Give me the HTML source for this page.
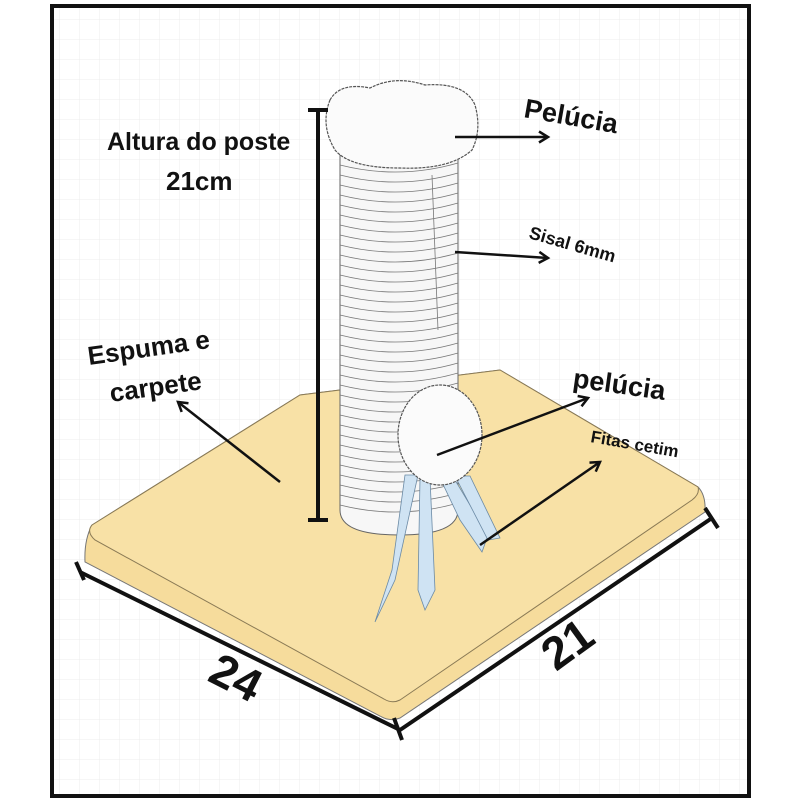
<!DOCTYPE html>
<html><head><meta charset="utf-8"><style>
html,body{margin:0;padding:0;background:#fff}
svg{display:block}
text{font-family:"Liberation Sans","DejaVu Sans",sans-serif;font-weight:bold;fill:#111}
</style></head><body>
<svg width="800" height="800" viewBox="0 0 800 800" xmlns="http://www.w3.org/2000/svg">
<defs>
<pattern id="g" width="20" height="20" patternUnits="userSpaceOnUse">
<path d="M20 0V20H0" fill="none" stroke="#ececec" stroke-width="1"/>
</pattern>
<marker id="a" markerWidth="14" markerHeight="14" refX="10" refY="7" orient="auto" markerUnits="userSpaceOnUse">
<path d="M1 1.5L10 7L1 12.5" fill="none" stroke="#111" stroke-width="2.5"/>
</marker>
</defs>
<rect x="0" y="0" width="800" height="800" fill="#fff"/>
<rect x="52" y="6" width="697" height="790" fill="url(#g)" stroke="#111" stroke-width="4"/>

<!-- base -->
<path d="M92 525 L300 395 L500 370 L698 487 Q706 495 705 512 L400 718 Q390 722 380 716 L85 562 Q84 540 92 525 Z" fill="#f6dc9c" stroke="#777" stroke-width="1"/>
<path d="M92 525 L300 395 L500 370 L698 487 Q700 494 692 500 L400 700 Q392 704 384 699 L95 540 Q86 532 92 525 Z" fill="#f8e1a6" stroke="#8a7a55" stroke-width="1"/>

<!-- post -->
<path d="M340 150 H458 V510 Q458 535 399 535 Q340 535 340 510 Z" fill="#f7f7f7" stroke="#666" stroke-width="1"/>
<g stroke="#777" stroke-width="0.8" fill="none">
<path d="M340 165 Q399 180 458 163 M340 175 Q399 190 458 173 M340 185 Q399 200 458 183 M340 195 Q399 210 458 193 M340 205 Q399 220 458 203 M340 215 Q399 230 458 213 M340 225 Q399 240 458 223 M340 235 Q399 250 458 233 M340 245 Q399 260 458 243 M340 255 Q399 270 458 253 M340 265 Q399 280 458 263 M340 275 Q399 290 458 273 M340 285 Q399 300 458 283 M340 295 Q399 310 458 293 M340 305 Q399 320 458 303 M340 315 Q399 330 458 313 M340 325 Q399 340 458 323 M340 335 Q399 350 458 333 M340 345 Q399 360 458 343 M340 355 Q399 370 458 353 M340 365 Q399 380 458 363 M340 375 Q399 390 458 373 M340 385 Q399 400 458 383 M340 395 Q399 410 458 393 M340 405 Q399 420 458 403 M340 415 Q399 430 458 413 M340 425 Q399 440 458 423 M340 435 Q399 450 458 433 M340 445 Q399 460 458 443 M340 455 Q399 470 458 453 M340 465 Q399 480 458 463 M340 475 Q399 490 458 473 M340 485 Q399 500 458 483 M340 495 Q399 510 458 493 M340 505 Q399 520 458 503"/>
<path d="M432 175 L438 330"/>
</g>
<!-- plush top -->
<path d="M330 100 Q340 82 370 88 Q395 75 425 85 Q465 82 475 105 Q482 130 472 150 Q450 170 400 168 Q350 168 335 150 Q320 125 330 100 Z" fill="#fbfbfb" stroke="#555" stroke-width="1.2" stroke-dasharray="3 1"/>
<!-- ribbons -->
<g fill="#cfe3f3" stroke="#6b8aa5" stroke-width="0.8">
<path d="M405 475 L418 475 L395 580 L375 622 L392 570 Z"/>
<path d="M420 478 L430 478 L435 590 L425 610 L418 590 Z"/>
<path d="M440 478 L452 475 L488 535 L482 552 L460 520 Z"/>
<path d="M455 476 L470 476 L500 538 L488 540 Z"/>
</g>
<!-- pom -->
<ellipse cx="440" cy="435" rx="42" ry="50" fill="#fbfbfb" stroke="#555" stroke-width="1.2" stroke-dasharray="3 1"/>

<!-- height line -->
<g stroke="#111" stroke-width="4" fill="none">
<path d="M318 110 V520 M308 110 H328 M308 520 H328"/>
</g>
<!-- dims -->
<g stroke="#111" stroke-width="4" fill="none">
<path d="M80 572 L400 730 L712 518"/>
<path d="M76 562 L84 580 M394 718 L402 740 M705 508 L718 528"/>
</g>
<text transform="translate(206,680) rotate(27)" font-size="46" font-weight="900">24</text>
<text transform="translate(556,672) rotate(-36)" font-size="46" font-weight="900">21</text>

<!-- arrows -->
<g stroke="#111" stroke-width="2.5" fill="none" marker-end="url(#a)">
<path d="M455 137 L548 137"/>
<path d="M455 252 L548 258"/>
<path d="M280 482 L178 402"/>
<path d="M437 455 L588 398"/>
<path d="M480 545 L600 462"/>
</g>

<text x="107" y="150" font-size="25">Altura do poste</text>
<text x="166" y="190" font-size="26">21cm</text>
<text transform="translate(523,117) rotate(10)" font-size="27">Pelúcia</text>
<text transform="translate(528,238) rotate(16)" font-size="18">Sisal 6mm</text>
<text transform="translate(89,365) rotate(-8)" font-size="26">Espuma e</text>
<text transform="translate(111,402) rotate(-8)" font-size="26">carpete</text>
<text transform="translate(572,387) rotate(8)" font-size="27">pelúcia</text>
<text transform="translate(590,442) rotate(10)" font-size="17">Fitas cetim</text>
</svg>
</body></html>
